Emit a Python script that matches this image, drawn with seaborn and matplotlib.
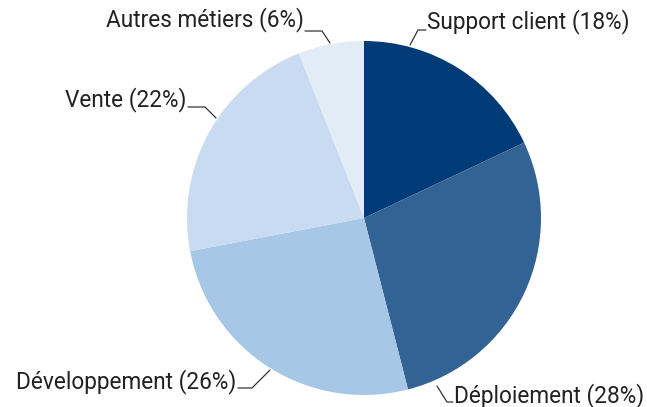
import matplotlib.pyplot as plt
import seaborn as sns

# data
labels = ["Support client", "Déploiement", "Développement", "Vente", "Autres métiers"]
shares = [18, 28, 26, 22, 6]
colors = ["#003b78", "#336394", "#a7c7e7", "#c8dbf0", "#e1ecf7"]

sns.set_style("white")
plt.rcParams["font.family"] = ["Roboto", "DejaVu Sans"]

fig = plt.figure(figsize=(6.47, 4.07), dpi=100)
# pie centre ~ (364, 218) px, radius ~177 px
ax = fig.add_axes([187 / 647, 12 / 407, 354 / 647, 354 / 407])
ax.pie(shares, colors=colors, startangle=90, counterclock=False,
       wedgeprops=dict(linewidth=0))
ax.set_xlim(-1, 1)
ax.set_ylim(-1, 1)
ax.set_aspect("equal")
ax.axis("off")


def px(x, y):
    # pixel position -> data coords of the pie axes
    return (x - 364) / 177, (218 - y) / 177


# leader lines (pixel points) and text anchors
leaders = [
    [(410, 45), (418, 30), (426, 30)],
    [(437, 386), (447, 402), (453, 402)],
    [(270, 370), (252, 388), (238, 388)],
    [(216, 118), (205, 107), (188, 107)],
    [(330, 43), (322, 31), (305, 31)],
]
text_pos = [(427, 22, "left"), (454, 396, "left"), (236, 382, "right"),
            (186, 100, "right"), (304, 20, "right")]

for lab, val, pts, (tx, ty, ha) in zip(labels, shares, leaders, text_pos):
    xs, ys = zip(*[px(*p) for p in pts])
    ax.plot(xs, ys, color="#333333", lw=0.9, clip_on=False)
    x, y = px(tx, ty)
    ax.text(x, y, f"{lab} ({val}%)", ha=ha, va="center", fontsize=16.3,
            color="#222222", clip_on=False)

plt.savefig("out.png", dpi=100)
